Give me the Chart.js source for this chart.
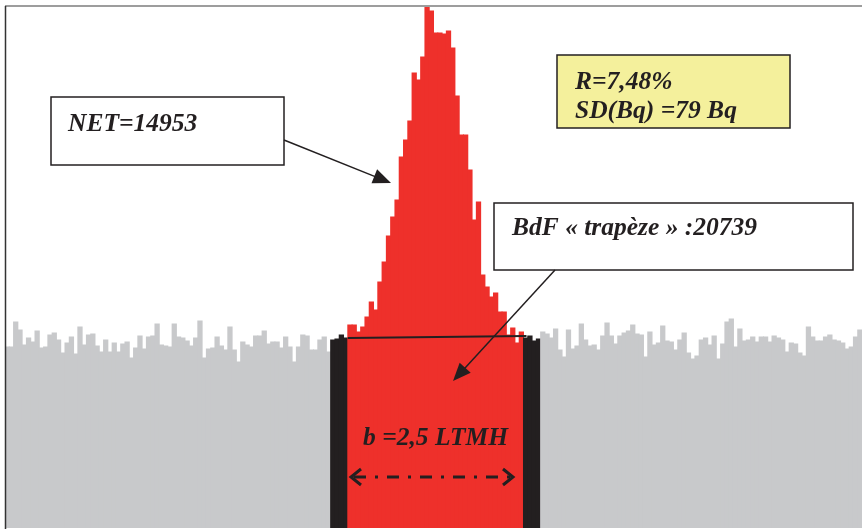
<!DOCTYPE html>
<html>
<head>
<meta charset="utf-8">
<script src="https://cdn.jsdelivr.net/npm/chart.js@4"></script>
<style>
  body { margin: 0; background: #fff; }
  #wrap { width: 862px; height: 529px; }
</style>
</head>
<body>
<div id="wrap"><canvas id="chart" width="862" height="529"></canvas></div>
<script>
// counts per channel, left to right
const bgLeft = [
    181, 181, 206, 198, 183, 190, 186, 197, 180, 181,
    193, 195, 188, 175, 185, 191, 174, 201, 183, 193,
    194, 182, 176, 188, 176, 185, 176, 184, 186, 170,
    180, 192, 179, 191, 192, 204, 183, 182, 181, 204,
    191, 190, 187, 182, 190, 207, 170, 179, 180, 191,
    182, 178, 201, 178, 166, 186, 183, 181, 192, 192,
    197, 184, 186, 186, 180, 191, 181, 166, 181, 193,
    192, 178, 178, 188, 191, 176
];
const edgeLeft = [188, 189, 193, 190];
const roi = [
    203, 203, 196, 201, 211, 226, 218, 246, 266, 292,
    311, 328, 371, 388, 407, 455, 448, 471, 521, 517,
    495, 495, 494, 497, 480, 432, 393, 393, 358, 308,
    326, 253, 241, 231, 235, 216, 216, 193, 200, 185,
    196
];
const edgeRight = [190, 192, 187, 189];
const bgRight = [
    196, 194, 190, 199, 178, 171, 198, 179, 182, 204,
    188, 182, 183, 178, 192, 205, 192, 184, 192, 195,
    197, 203, 194, 193, 171, 196, 183, 185, 202, 187,
    186, 178, 188, 195, 175, 169, 172, 188, 190, 183,
    192, 169, 184, 206, 209, 181, 199, 187, 188, 191,
    186, 191, 191, 186, 192, 190, 188, 176, 185, 184,
    175, 172, 201, 191, 187, 187, 191, 193, 188, 187,
    185, 179, 181, 191, 198
];
// background level at both ends of the trapezoid
const trapeze = [190, 192];

const GREY = '#c8c9cb';
const BLACK = '#231f20';
const RED = '#ee302b';
const INK = '#231f20';

const counts = [].concat(bgLeft, edgeLeft, roi, edgeRight, bgRight);
const labels = counts.map((v, i) => String(i + 1));
const colors = [].concat(
    bgLeft.map(() => GREY),
    edgeLeft.map(() => BLACK),
    roi.map(() => RED),
    edgeRight.map(() => BLACK),
    bgRight.map(() => GREY)
);
const roiStart = bgLeft.length + edgeLeft.length;
const roiEnd = roiStart + roi.length - 1;

function arrow(ctx, x1, y1, x2, y2) {
    const a = Math.atan2(y2 - y1, x2 - x1);
    const len = 18, half = 7.5;
    ctx.beginPath();
    ctx.moveTo(x1, y1);
    ctx.lineTo(x2 - Math.cos(a) * len * 0.8, y2 - Math.sin(a) * len * 0.8);
    ctx.stroke();
    ctx.beginPath();
    ctx.moveTo(x2, y2);
    ctx.lineTo(x2 - Math.cos(a) * len + Math.sin(a) * half, y2 - Math.sin(a) * len - Math.cos(a) * half);
    ctx.lineTo(x2 - Math.cos(a) * len - Math.sin(a) * half, y2 - Math.sin(a) * len + Math.cos(a) * half);
    ctx.closePath();
    ctx.fill();
}

function box(ctx, x, y, w, h, fill) {
    ctx.fillStyle = fill;
    ctx.fillRect(x, y, w, h);
    ctx.lineWidth = 1.5;
    ctx.strokeStyle = INK;
    ctx.strokeRect(x, y, w, h);
}

const annotations = {
    id: 'annotations',
    afterDatasetsDraw(chart) {
        const ctx = chart.ctx;
        const xs = chart.scales.x;
        const ys = chart.scales.y;
        const half = (xs.getPixelForValue(1) - xs.getPixelForValue(0)) / 2;
        ctx.save();

        // trapezoid top
        ctx.strokeStyle = INK;
        ctx.lineWidth = 2;
        ctx.beginPath();
        ctx.moveTo(xs.getPixelForValue(roiStart) - half, ys.getPixelForValue(trapeze[0]));
        ctx.lineTo(xs.getPixelForValue(roiEnd) + half + 3, ys.getPixelForValue(trapeze[1]));
        ctx.stroke();

        // frame
        ctx.lineWidth = 1.5;
        ctx.strokeStyle = '#7d7d7d';
        ctx.beginPath();
        ctx.moveTo(5, 6);
        ctx.lineTo(862, 6);
        ctx.stroke();
        ctx.strokeStyle = '#333';
        ctx.beginPath();
        ctx.moveTo(5.5, 6);
        ctx.lineTo(5.5, 529);
        ctx.stroke();

        ctx.font = "italic bold 25.5px 'Liberation Serif', serif";
        ctx.textBaseline = 'alphabetic';

        // NET
        box(ctx, 51, 97, 233, 68, '#fff');
        ctx.fillStyle = INK;
        ctx.fillText('NET=14953', 68, 131);
        ctx.strokeStyle = INK;
        ctx.lineWidth = 1.5;
        arrow(ctx, 284, 140, 391, 183);

        // resolution box
        box(ctx, 557, 55, 233, 73, '#f4f09c');
        ctx.fillStyle = INK;
        ctx.fillText('R=7,48%', 575, 89);
        ctx.fillText('SD(Bq) =79 Bq', 575, 118);

        // BdF
        box(ctx, 494, 203, 359, 67, '#fff');
        ctx.fillStyle = INK;
        ctx.fillText('BdF \u00ab trap\u00e8ze \u00bb :20739', 512, 235);
        ctx.strokeStyle = INK;
        ctx.lineWidth = 1.5;
        arrow(ctx, 555, 270, 453, 381);

        // width of the region
        ctx.fillStyle = INK;
        ctx.fillText('b =2,5 LTMH', 363, 445);
        ctx.lineWidth = 3;
        ctx.setLineDash([12, 9, 3, 9]);
        ctx.beginPath();
        ctx.moveTo(354, 477);
        ctx.lineTo(510, 477);
        ctx.stroke();
        ctx.setLineDash([]);
        ctx.beginPath();
        ctx.moveTo(361, 469);
        ctx.lineTo(351, 477);
        ctx.lineTo(361, 485);
        ctx.moveTo(503, 469);
        ctx.lineTo(513, 477);
        ctx.lineTo(503, 485);
        ctx.stroke();

        ctx.restore();
    }
};

new Chart(document.getElementById('chart'), {
    type: 'bar',
    data: {
        labels: labels,
        datasets: [{
            data: counts,
            backgroundColor: colors,
            borderWidth: 0,
            inflateAmount: 0.5,
            barPercentage: 1,
            categoryPercentage: 1
        }]
    },
    options: {
        responsive: false,
        animation: false,
        devicePixelRatio: 1,
        layout: { padding: { left: 5, top: 7, right: 0, bottom: 1 } },
        scales: {
            x: { display: false },
            y: { display: false, min: 0, max: 521 }
        },
        plugins: {
            legend: { display: false },
            tooltip: { enabled: false }
        }
    },
    plugins: [annotations]
});
</script>
</body>
</html>
